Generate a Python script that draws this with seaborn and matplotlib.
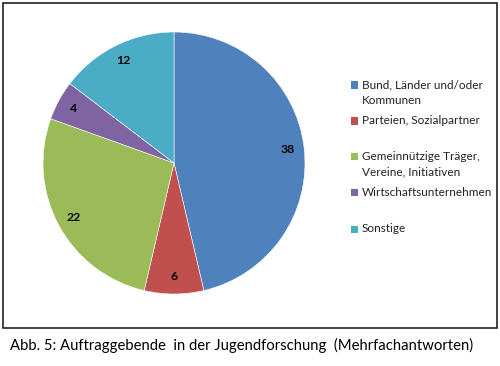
import matplotlib
matplotlib.use("Agg")
import matplotlib.pyplot as plt
import matplotlib.patches as mpatches
import seaborn as sns

# ── Data ──────────────────────────────────────────────
categories = ["Bund, Länder und/oder\nKommunen", "Parteien, Sozialpartner",
              "Gemeinnützige Träger,\nVereine, Initiativen",
              "Wirtschaftsunternehmen", "Sonstige"]
values = [38, 6, 22, 4, 12]
colors = ["#4F81BD", "#C0504D", "#9BBB59", "#8064A2", "#4BACC6"]
caption = "Abb. 5: Auftraggebende  in der Jugendforschung  (Mehrfachantworten)"

sns.set_theme(style="white")
plt.rcParams["font.family"] = ["Lato", "DejaVu Sans"]

W, H = 500, 366
fig = plt.figure(figsize=(W / 100, H / 100), dpi=100)

# pie centre (174, 163) px, radius 131 px
cx, cy, r = 174, 163, 131
ax = fig.add_axes([(cx - r) / W, (H - cy - r) / H, 2 * r / W, 2 * r / H])
wedges, texts = ax.pie(values, colors=colors, startangle=90, counterclock=False,
                       radius=1, labels=[str(v) for v in values], labeldistance=0.87,
                       wedgeprops=dict(edgecolor="white", linewidth=0.4),
                       textprops=dict(fontsize=8.8, fontweight="bold", color="black"))
for t in texts:
    t.set_ha("center")
    t.set_va("center")
ax.set_xlim(-1, 1)
ax.set_ylim(-1, 1)
ax.set_aspect("auto")
ax.axis("off")

# legend drawn by hand so markers line up with the first text line
leg_y = [85, 121, 156, 192, 229]
for lab, col, y in zip(categories, colors, leg_y):
    fig.patches.append(mpatches.Rectangle((351 / W, (H - y - 3.5) / H), 7 / W, 7 / H,
                                          transform=fig.transFigure, facecolor=col,
                                          edgecolor="none"))
    for i, line in enumerate(lab.split("\n")):
        fig.text(362 / W, (H - y - 16 * i) / H, line, fontsize=8.5,
                 va="center", ha="left", color="#222222")

# chart border
fig.patches.append(mpatches.Rectangle((2.5 / W, (H - 328) / H), 494.5 / W, 325.5 / H,
                                      transform=fig.transFigure, facecolor="none",
                                      edgecolor="#222222", linewidth=1.2))

fig.text(10 / W, (H - 345) / H, caption, fontsize=10.75, va="center", ha="left",
         color="black")

fig.savefig("out.png", dpi=100)
